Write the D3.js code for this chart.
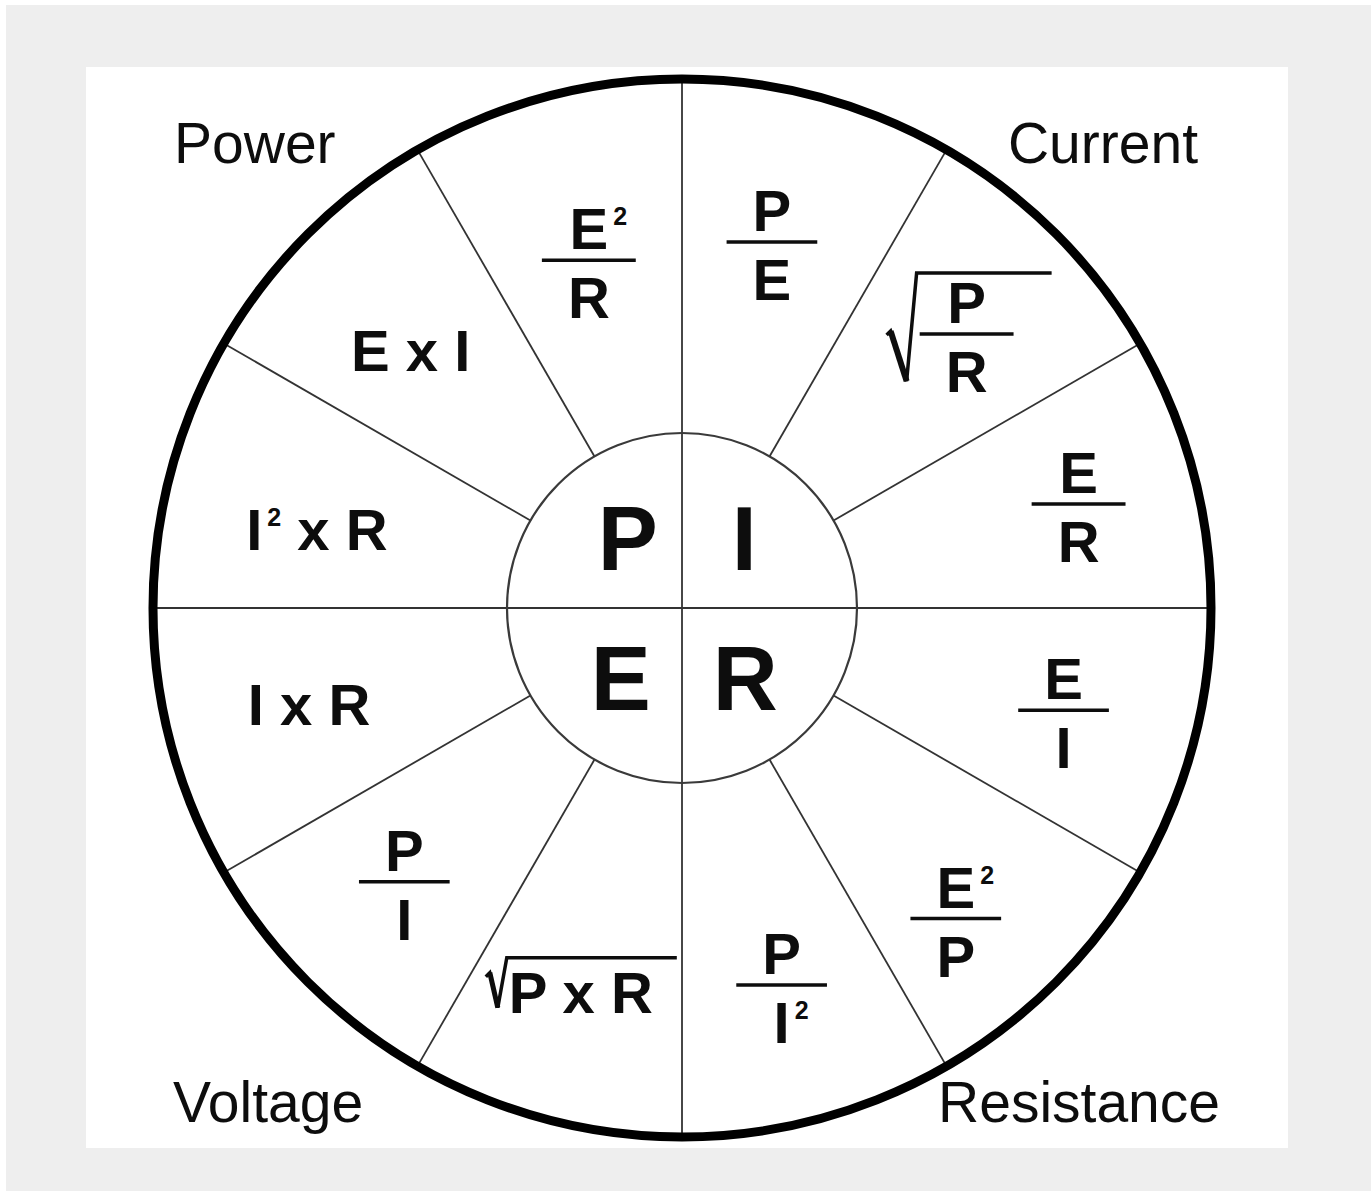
<!DOCTYPE html>
<html><head><meta charset="utf-8">
<script src="https://cdn.jsdelivr.net/npm/d3@7"></script>
<style>html,body{margin:0;padding:0;background:#fff;} svg{display:block;} text{white-space:pre;}</style>
</head><body>
<svg id="chart" width="1371" height="1191"></svg>
<script>
// ---------------- data ----------------
// quadrants, clockwise from the top-right quadrant
const quadrantNames   = ["Current", "Resistance", "Voltage", "Power"];
const quadrantSymbols = ["I", "R", "E", "P"];
// twelve 30-degree sectors, clockwise from 12 o'clock
const sectorFormulas  = ["P/E", "sqrt(P/R)", "E/R", "E/I", "E^2/P", "P/I^2",
                         "sqrt(P x R)", "P/I", "I x R", "I^2 x R", "E x I", "E^2/R"];
const sectorQuantity  = ["I", "I", "I", "R", "R", "R", "E", "E", "E", "P", "P", "P"];

// ---------------- layout / style ----------------
const W = 1371, H = 1191;
const panel = {x: 86, y: 67, w: 1202, h: 1081};
const cx = 682, cy = 608, R = 529, innerR = 175;
const FONT = "'Liberation Sans', Arial, Helvetica, sans-serif";
const INK = "#0d0d0d";
const fs = 58, capH = 0.716 * fs, supFs = 25, supRise = 24;
const labelR = 390;
// hand-tuned label nudges per sector: [radial px, degrees]
const labelNudge = [[-13,-1.2],[5,1.1],[20,0.3],[5,0],[24,3.6],[0,0.2],
                    [1,0],[0,0.4],[-5,0.6],[-14,-2.9],[-16,-1.5],[-30,0]];
// small horizontal nudges for the centre letters (I, R, E, P)
const symbolNudge = [1, 2, 0, 7];

const svg = d3.select("#chart");
svg.append("rect").attr("width", W).attr("height", H).attr("fill", "#ffffff");
svg.append("rect").attr("x", 6).attr("y", 5).attr("width", W - 6).attr("height", H - 5).attr("fill", "#eeeeee");
svg.append("rect").attr("x", panel.x).attr("y", panel.y).attr("width", panel.w).attr("height", panel.h).attr("fill", "#ffffff");

const angle  = d3.scaleLinear().domain([0, sectorFormulas.length]).range([0, 2 * Math.PI]);
const radius = d3.scaleLinear().domain([0, 1]).range([0, R]);
const innerFrac = innerR / R;
const pt = (a, r) => [cx + r * Math.sin(a), cy - r * Math.cos(a)];

const g = svg.append("g");

// spokes
const spokes = d3.range(sectorFormulas.length).map(k => ({k, r0: k % 3 === 0 ? 0 : radius(innerFrac), r1: radius(1)}));
g.selectAll("line.spoke").data(spokes).join("line").attr("class", "spoke")
  .attr("x1", d => pt(angle(d.k), d.r0)[0]).attr("y1", d => pt(angle(d.k), d.r0)[1])
  .attr("x2", d => pt(angle(d.k), d.r1)[0]).attr("y2", d => pt(angle(d.k), d.r1)[1])
  .attr("stroke", "#333").attr("stroke-width", 1.8);

g.append("circle").attr("cx", cx).attr("cy", cy).attr("r", radius(innerFrac))
  .attr("fill", "none").attr("stroke", "#3a3a3a").attr("stroke-width", 2.2);
g.append("circle").attr("cx", cx).attr("cy", cy).attr("r", radius(1))
  .attr("fill", "none").attr("stroke", "#000").attr("stroke-width", 9);

// center symbols
quadrantSymbols.forEach((s, q) => {
  const a = angle(3 * q + 1.5);
  const sx = Math.sign(Math.sin(a)), sy = Math.sign(Math.cos(a));
  g.append("text").attr("x", cx + sx * innerR * 0.35 + symbolNudge[q]).attr("y", cy - sy * innerR * 0.4 + 0.716 * 90 / 2)
    .attr("text-anchor", "middle").attr("font-family", FONT).attr("font-weight", "bold")
    .attr("font-size", 90).attr("fill", INK).text(s);
});

// quadrant names
const nameLayout = [
  {x: panel.x + panel.w - 90, y: panel.y + 96, anchor: "end"},
  {x: panel.x + panel.w - 68, y: panel.y + panel.h - 26, anchor: "end"},
  {x: panel.x + 87, y: panel.y + panel.h - 26, anchor: "start"},
  {x: panel.x + 88, y: panel.y + 96, anchor: "start"}
];
quadrantNames.forEach((n, q) => {
  g.append("text").attr("x", nameLayout[q].x).attr("y", nameLayout[q].y)
    .attr("text-anchor", nameLayout[q].anchor).attr("font-family", FONT)
    .attr("font-size", 57).attr("fill", INK).text(n);
});

// ---------- formula rendering ----------
function parsePieces(s) {
  return s.split(/(\^2)/).filter(p => p.length).map(p => p === "^2" ? {text: "2", sup: true} : {text: p, sup: false});
}
function inlineText(parent, s, x, baseline, hang) {
  const pieces = parsePieces(s);
  const t = parent.append("text").attr("y", baseline).attr("font-family", FONT)
    .attr("font-weight", "bold").attr("font-size", fs).attr("fill", INK);
  let prevSup = false;
  const spans = pieces.map(p => {
    const ts = t.append("tspan").text(p.text);
    if (p.sup) { ts.attr("font-size", supFs).attr("dy", -supRise).attr("dx", 5); }
    else if (prevSup) { ts.attr("dy", supRise); }
    prevSup = p.sup;
    return {p, node: ts.node()};
  });
  const total = t.node().getComputedTextLength();
  let baseW = total;
  if (pieces.length && pieces[pieces.length - 1].sup) {
    baseW = spans.slice(0, -1).reduce((acc, s) => acc + s.node.getComputedTextLength(), 0);
  }
  const left = hang ? x - baseW / 2 : x - total / 2;
  t.attr("x", left);
  return {left, right: left + total, baseW};
}
function fraction(parent, num, den, x, barY) {
  const n = inlineText(parent, num, x, barY - 11, true);
  const d = inlineText(parent, den, x, barY + 58, true);
  const bw = Math.max(n.baseW, d.baseW) + 52;
  parent.append("line").attr("x1", x - bw / 2).attr("x2", x + bw / 2).attr("y1", barY).attr("y2", barY)
    .attr("stroke", INK).attr("stroke-width", 3.5);
  return {barL: x - bw / 2, barR: x + bw / 2};
}
function radical(parent, sx, sy, vx, vy, tx, ty, rx, thick) {
  parent.append("path").attr("d", `M${sx - 4},${sy + 4}L${sx},${sy}L${vx},${vy}L${tx},${ty}L${rx},${ty}`)
    .attr("fill", "none").attr("stroke", INK).attr("stroke-width", 3.5).attr("stroke-linejoin", "miter");
  parent.append("line").attr("x1", sx).attr("y1", sy).attr("x2", vx).attr("y2", vy)
    .attr("stroke", INK).attr("stroke-width", thick);
}
function drawFormula(parent, f, x, y) {
  let m = f.match(/^sqrt\((.*)\)$/);
  if (m) {
    const inner = m[1];
    if (inner.includes("/")) {
      const [a, b] = inner.split("/");
      fraction(parent, a, b, x, y);
      radical(parent, x - 76, y - 3, x - 60, y + 47, x - 50, y - 61, x + 85, 6);
    } else {
      const baseline = y + 27;
      const t = inlineText(parent, inner, x, baseline, false);
      radical(parent, t.left - 19, baseline - 40, t.left - 11, baseline - 5, t.left - 2, baseline - 55, t.right + 24, 5);
    }
    return;
  }
  if (f.includes("/")) {
    const [a, b] = f.split("/");
    fraction(parent, a, b, x, y);
    return;
  }
  inlineText(parent, f, x, y + capH / 2, false);
}

sectorFormulas.forEach((f, i) => {
  const a = angle(i + 0.5) + labelNudge[i][1] * Math.PI / 180;
  const [x, y] = pt(a, labelR + labelNudge[i][0]);
  const fg = g.append("g").attr("class", "formula").attr("data-quantity", sectorQuantity[i]);
  drawFormula(fg, f, x, y);
});
</script>
</body></html>
